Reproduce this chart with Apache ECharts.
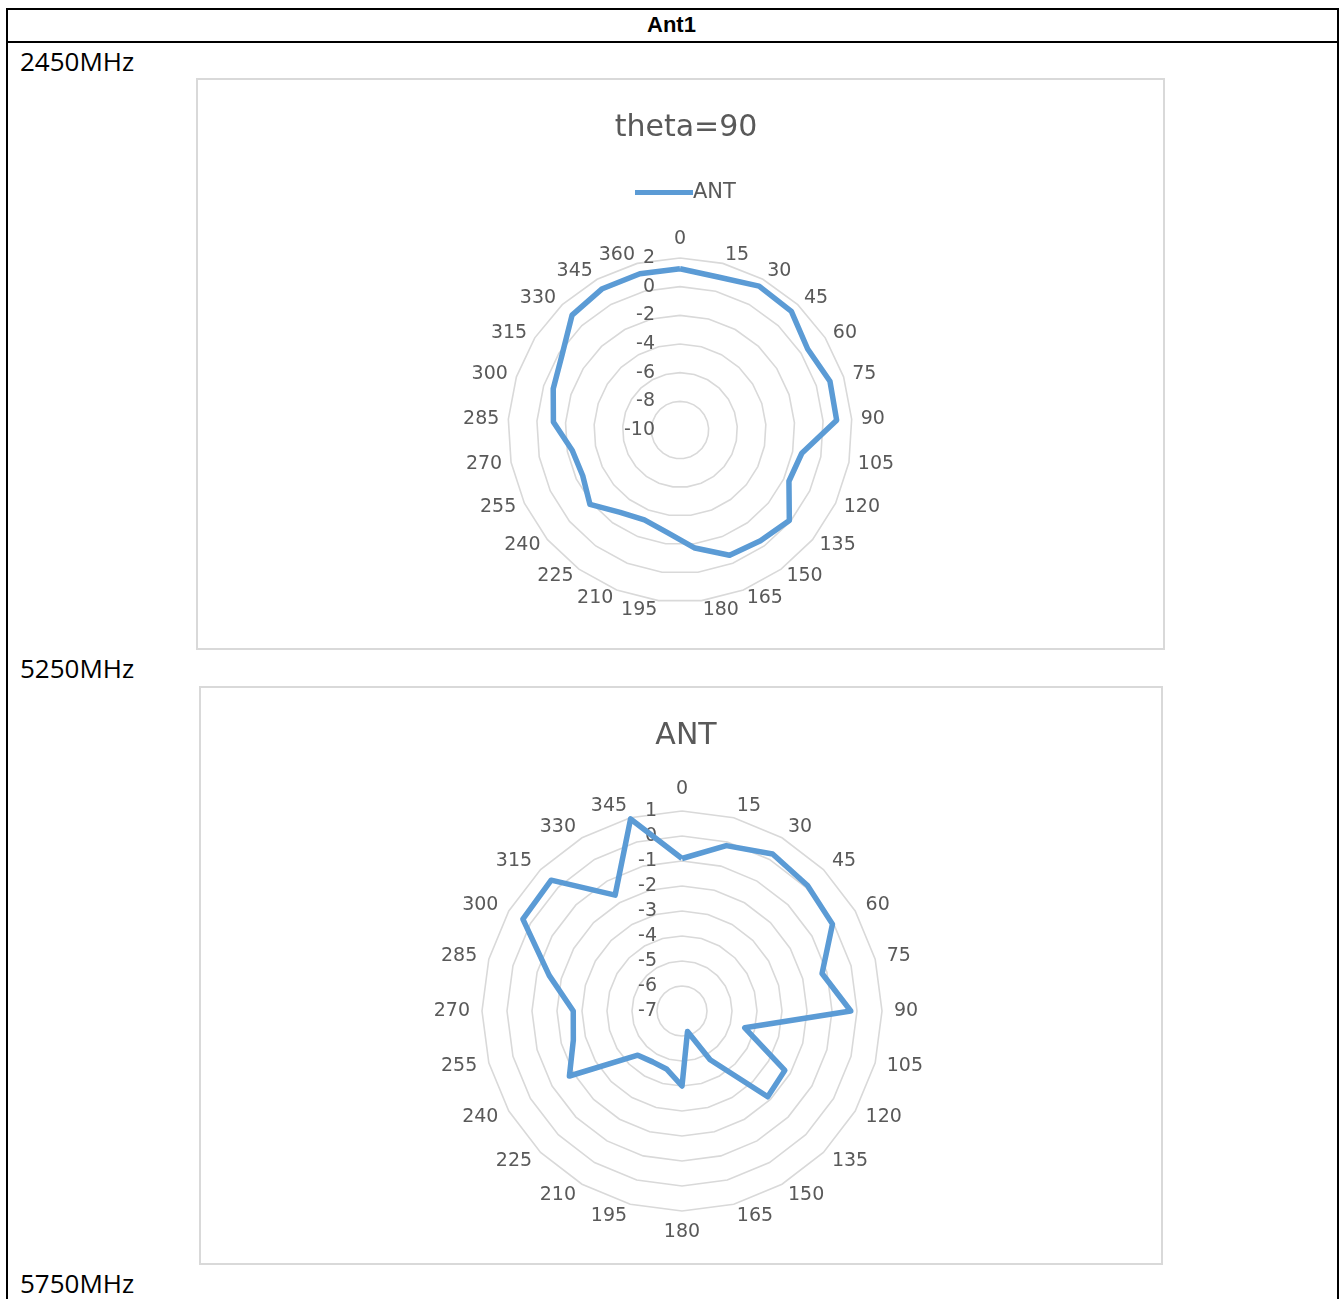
<!DOCTYPE html>
<html>
<head>
<meta charset="utf-8">
<script src="https://cdn.jsdelivr.net/npm/echarts@6/dist/echarts.min.js"></script>
<style>
  html, body { margin: 0; padding: 0; background: #ffffff; }
  #page { position: relative; width: 1343px; height: 1299px; overflow: hidden; background: #fff; }
  .hline { position: absolute; height: 2px; background: #000; }
  .vline { position: absolute; width: 2px; background: #000; }
  .box { position: absolute; border: 2px solid #d9d9d9; box-sizing: border-box; }
  .freq { position: absolute; left: 20px; font-family: "Open Sans", sans-serif; font-size: 26px; color: #000; line-height: 30px; }
  #hdr { position: absolute; left: 0; width: 1343px; top: 11px; text-align: center; font-family: "Liberation Sans", Arial, sans-serif; font-weight: bold; font-size: 22px; line-height: 28px; color: #000; }
  #chart { position: absolute; left: 0; top: 0; width: 1343px; height: 1299px; }
</style>
</head>
<body>
<div id="page">
  <div class="hline" style="left:6px; width:1333px; top:8px;"></div>
  <div class="hline" style="left:6px; width:1333px; top:41px;"></div>
  <div class="vline" style="left:6px; top:8px; height:1291px;"></div>
  <div class="vline" style="left:1337px; top:8px; height:1291px;"></div>
  <div id="hdr">Ant1</div>
  <div class="freq" style="top:46px;">2450MHz</div>
  <div class="freq" style="top:653px;">5250MHz</div>
  <div class="freq" style="top:1268px;">5750MHz</div>
  <div class="box" style="left:196px; top:78px; width:969px; height:572px;"></div>
  <div class="box" style="left:199px; top:686px; width:964px; height:579px;"></div>
  <div id="chart"></div>
</div>
<script>
// ---- data ----
const categories2450 = ['0','15','30','45','60','75','90','105','120','135','150','165','180','195','210','225','240','255','270','285','300','315','330','345','360'];
const ant2450 = [1.25, 1.0, 1.45, 1.35, 0.55, 1.0, 0.95, -1.35, -1.6, -0.1, -0.45, -0.6, -1.7, -2.8, -3.25, -2.9, -1.85, -2.5, -2.35, -1.15, -0.7, -0.25, 1.0, 1.25, 1.25];
const categories5250 = ['0','15','30','45','60','75','90','105','120','135','150','165','180','195','210','225','240','255','270','285','300','315','330','345'];
const ant5250 = [-0.9, -0.15, 0.25, 0.1, -0.05, -1.2, -0.25, -4.4, -2.25, -2.15, -4.75, -6.15, -4.0, -4.6, -4.65, -4.5, -1.8, -2.5, -2.65, -1.5, 0.35, 0.4, -1.65, 0.95];
const range2450 = { min: -10, max: 2, step: 2 };
const range5250 = { min: -7, max: 1, step: 1 };
const titles = ['theta=90', 'ANT'];
const seriesName = 'ANT';

// ECharts radar lays indicators counter-clockwise; Excel goes clockwise.
function clockwise(arr) { return [arr[0]].concat(arr.slice(1).reverse()); }

const GREY = '#595959';
const FONT = 'DejaVu Sans';
const LINE = '#5b9bd5';

function makeIndicators(cats, rng) {
  return clockwise(cats).map(function (c, i) {
    const ind = { name: c, min: rng.min, max: rng.max };
    if (i === 0) {
      ind.axisLabel = { show: true, color: GREY, fontSize: 19, fontFamily: FONT, margin: 25 };
    }
    return ind;
  });
}

function radarCfg(cats, rng, center, radius, gap) {
  return {
    center: center,
    radius: radius,
    startAngle: 90,
    shape: 'polygon',
    splitNumber: (rng.max - rng.min) / rng.step,
    indicator: makeIndicators(cats, rng),
    nameGap: gap,
    axisName: { color: GREY, fontSize: 19, fontFamily: FONT },
    axisLine: { show: false },
    axisTick: { show: false },
    axisLabel: { show: false },
    splitArea: { show: false },
    splitLine: { lineStyle: { color: '#d9d9d9', width: 1.6 } }
  };
}

const chart = echarts.init(document.getElementById('chart'), null, { renderer: 'canvas' });
chart.setOption({
  animation: false,
  backgroundColor: 'transparent',
  title: [
    { text: titles[0], left: 681, top: 108, textAlign: 'center',
      textStyle: { color: GREY, fontSize: 30, fontWeight: 'normal', fontFamily: FONT } },
    { text: titles[1], left: 681, top: 716, textAlign: 'center',
      textStyle: { color: GREY, fontSize: 30, fontWeight: 'normal', fontFamily: FONT } }
  ],
  legend: {
    data: [seriesName],
    left: 630, top: 177,
    icon: 'rect', itemWidth: 58, itemHeight: 5, itemGap: 2,
    textStyle: { color: GREY, fontSize: 21, fontFamily: FONT, padding: [0, 0, 0, -5] }
  },
  radar: [
    radarCfg(categories2450, range2450, [680, 430], 172, 9),
    radarCfg(categories5250, range5250, [682, 1011], 200, 12)
  ],
  series: [
    { type: 'radar', name: seriesName, radarIndex: 0, symbol: 'none',
      lineStyle: { color: LINE, width: 5.5 }, itemStyle: { color: LINE },
      data: [{ value: clockwise(ant2450), name: seriesName }] },
    { type: 'radar', name: seriesName + ' 5250MHz', radarIndex: 1, symbol: 'none',
      lineStyle: { color: LINE, width: 5.5 }, itemStyle: { color: LINE },
      data: [{ value: clockwise(ant5250), name: seriesName + ' 5250MHz' }] }
  ]
});
</script>
</body>
</html>
